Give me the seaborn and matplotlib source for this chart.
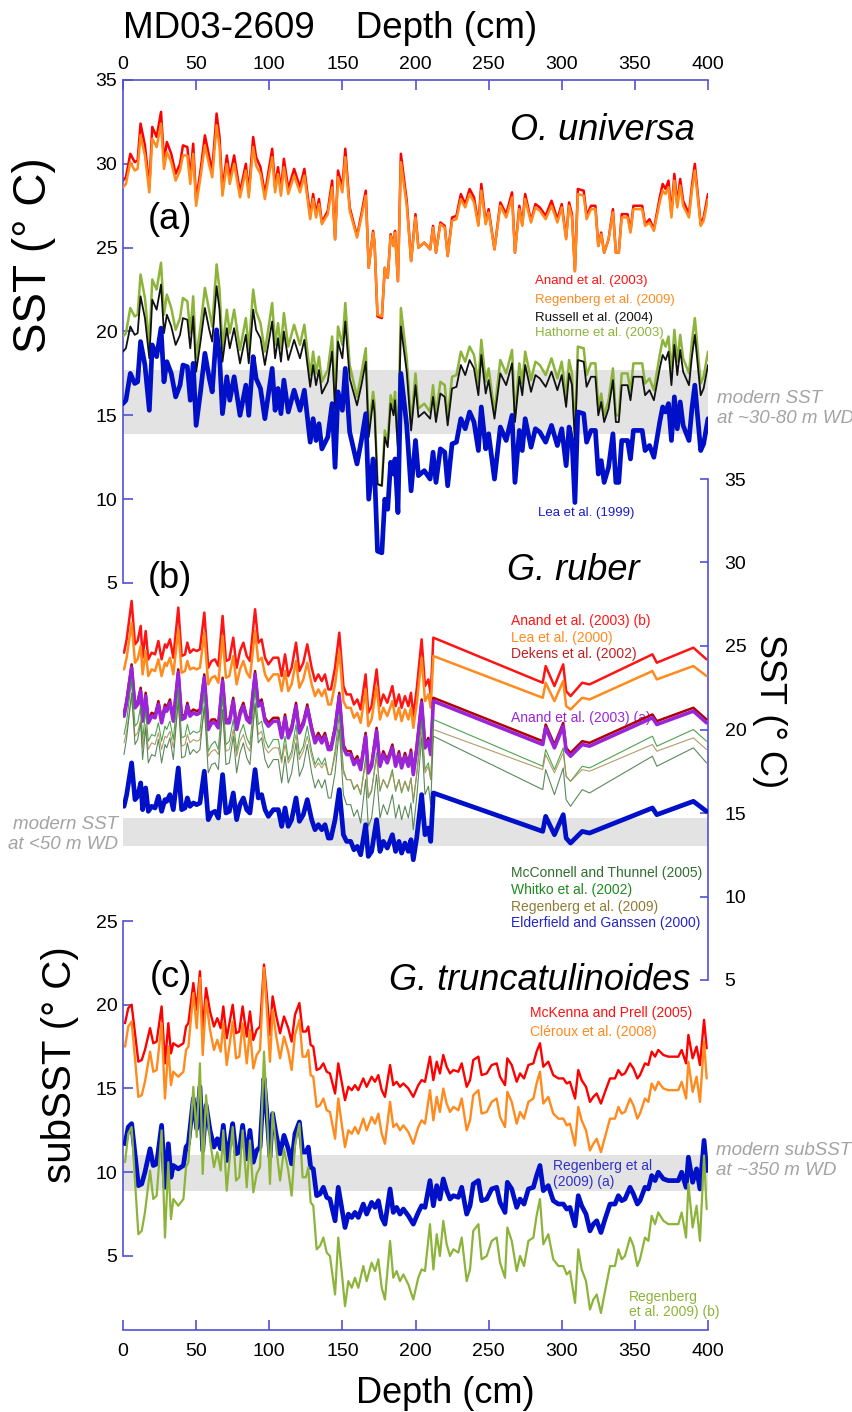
import matplotlib
matplotlib.use("Agg")
import matplotlib.pyplot as plt
import seaborn as sns

sns.set_style("white", {"text.color": "black", "xtick.color": "black", "ytick.color": "black",
                        "axes.labelcolor": "black"})
plt.rcParams["font.family"] = ["Liberation Sans", "DejaVu Sans"]

# ---------------- (a) O. universa ----------------
depth_a = [0, 2, 5, 8, 10, 12, 15, 18, 20, 23, 26, 28, 30, 33, 36, 39, 41, 44, 46, 48,
           50, 53, 56, 59, 61, 64, 66, 68, 71, 73, 76, 80, 84, 86, 89, 91, 94, 97, 102, 104,
           106, 108, 110, 113, 117, 121, 124, 128, 130, 132, 134, 136, 140, 143, 145, 147, 150, 152, 155, 160,
           163, 166, 168, 171, 172, 174, 177, 179, 181, 183, 185, 186, 188, 190, 194, 197, 200, 202, 206, 210,
           212, 214, 217, 220, 222, 225, 228, 231, 234, 237, 240, 243, 245, 248, 250, 254, 258, 262, 266, 268,
           271, 273, 275, 279, 282, 285, 289, 293, 297, 300, 303, 305, 307, 309, 311, 315, 317, 320, 323, 325,
           327, 329, 332, 335, 337, 339, 341, 345, 347, 349, 355, 357, 360, 363, 367, 369, 371, 373, 375, 377,
           379, 381, 383, 387, 389, 391, 395, 397, 400]
anand_a = [29.0, 29.2, 30.6, 30.1, 30.2, 32.4, 31.1, 28.6, 32.2, 31.6, 33.1, 30.2, 31.3, 30.6, 29.4, 30.0, 31.1, 31.0, 29.2, 31.2,
           27.8, 29.6, 31.7, 30.4, 29.6, 33.0, 31.6, 28.4, 30.5, 29.2, 30.5, 28.3, 30.0, 28.3, 31.6, 30.4, 29.8, 28.2, 30.9, 28.6,
           29.8, 28.4, 30.3, 28.5, 29.7, 28.6, 29.7, 26.9, 28.2, 27.0, 27.9, 26.5, 27.2, 29.0, 25.5, 29.6, 28.6, 30.9, 27.4, 25.7,
           27.0, 28.4, 23.8, 26.0, 25.3, 20.9, 20.8, 23.8, 23.2, 25.8, 25.1, 26.0, 23.0, 30.6, 27.8, 24.2, 27.0, 25.0, 25.3, 24.9,
           26.3, 24.7, 26.5, 26.3, 24.5, 26.8, 26.9, 28.2, 27.6, 28.5, 28.0, 26.4, 28.8, 26.5, 27.3, 24.9, 27.7, 27.0, 28.3, 24.7,
           27.5, 26.4, 28.2, 26.6, 27.6, 27.4, 26.9, 27.8, 26.7, 27.6, 25.6, 27.7, 27.0, 23.6, 28.5, 28.4, 26.9, 27.5, 27.5, 25.1,
           25.9, 24.7, 25.5, 27.3, 24.7, 24.7, 27.0, 27.0, 26.0, 27.5, 27.5, 26.4, 26.7, 26.1, 28.0, 28.8, 28.5, 29.0, 27.0, 29.4,
           27.6, 29.1, 27.8, 27.0, 28.7, 30.0, 26.4, 26.8, 28.2]
regenberg_a = [28.6, 28.8, 30.1, 29.6, 29.7, 31.7, 30.5, 28.3, 31.5, 31.0, 32.4, 29.7, 30.7, 30.1, 29.0, 29.6, 30.5, 30.5, 28.8, 30.6,
               27.5, 29.2, 31.1, 29.9, 29.2, 32.3, 31.0, 28.1, 30.0, 28.8, 30.0, 28.0, 29.6, 28.0, 31.0, 29.9, 29.4, 27.9, 30.4, 28.3,
               29.4, 28.1, 29.8, 28.2, 29.3, 28.3, 29.3, 26.7, 27.9, 26.8, 27.6, 26.4, 27.0, 28.6, 25.5, 29.2, 28.3, 30.4, 27.2, 25.6,
               26.8, 28.1, 23.8, 25.9, 25.3, 21.0, 20.9, 23.8, 23.2, 25.7, 25.1, 25.9, 23.0, 30.1, 27.5, 24.2, 26.8, 25.0, 25.3, 24.9,
               26.2, 24.7, 26.4, 26.2, 24.5, 26.6, 26.7, 27.9, 27.4, 28.2, 27.7, 26.3, 28.4, 26.4, 27.1, 24.9, 27.5, 26.8, 28.0, 24.7,
               27.3, 26.3, 27.9, 26.5, 27.4, 27.2, 26.7, 27.5, 26.5, 27.4, 25.5, 27.5, 26.8, 23.6, 28.2, 28.1, 26.7, 27.3, 27.3, 25.1,
               25.8, 24.7, 25.5, 27.1, 24.7, 24.7, 26.8, 26.8, 25.9, 27.3, 27.3, 26.3, 26.5, 26.0, 27.7, 28.4, 28.2, 28.6, 26.8, 29.0,
               27.4, 28.7, 27.5, 26.8, 28.4, 29.6, 26.3, 26.6, 27.9]
russell_a = [18.8, 19.0, 20.3, 19.8, 19.9, 22.1, 20.8, 18.4, 21.9, 21.3, 22.8, 19.9, 21.0, 20.3, 19.2, 19.8, 20.8, 20.7, 19.0, 20.9,
             17.6, 19.4, 21.4, 20.1, 19.4, 22.7, 21.3, 18.2, 20.2, 19.0, 20.2, 18.1, 19.8, 18.1, 21.3, 20.1, 19.6, 18.0, 20.6, 18.4,
             19.6, 18.2, 20.0, 18.3, 19.5, 18.4, 19.5, 16.7, 18.0, 16.8, 17.7, 16.3, 17.0, 18.8, 15.4, 19.4, 18.4, 20.6, 17.2, 15.6,
             16.8, 18.2, 13.7, 15.9, 15.2, 10.9, 10.8, 13.7, 13.1, 15.7, 15.0, 15.9, 12.9, 20.3, 17.6, 14.1, 16.8, 14.9, 15.2, 14.8,
             16.1, 14.6, 16.3, 16.1, 14.4, 16.6, 16.7, 18.0, 17.4, 18.3, 17.8, 16.2, 18.6, 16.3, 17.1, 14.8, 17.5, 16.8, 18.1, 14.6,
             17.3, 16.2, 18.0, 16.4, 17.4, 17.2, 16.7, 17.6, 16.5, 17.4, 15.5, 17.5, 16.8, 13.5, 18.3, 18.2, 16.7, 17.3, 17.3, 15.0,
             15.8, 14.6, 15.4, 17.1, 14.6, 14.6, 16.8, 16.8, 15.9, 17.3, 17.3, 16.2, 16.5, 15.9, 17.8, 18.6, 18.3, 18.8, 16.8, 19.2,
             17.4, 18.9, 17.6, 16.8, 18.5, 19.8, 16.2, 16.6, 18.0]
hathorne_a = [19.7, 19.9, 21.4, 20.9, 21.0, 23.4, 22.0, 19.2, 23.1, 22.5, 24.1, 21.0, 22.2, 21.4, 20.1, 20.8, 22.0, 21.8, 19.9, 22.1,
              18.4, 20.3, 22.6, 21.2, 20.3, 24.0, 22.5, 19.0, 21.3, 19.9, 21.3, 18.9, 20.8, 18.9, 22.5, 21.2, 20.5, 18.8, 21.7, 19.2,
              20.5, 19.0, 21.1, 19.1, 20.4, 19.2, 20.4, 17.4, 18.8, 17.5, 18.5, 17.0, 17.7, 19.7, 15.9, 20.3, 19.2, 21.7, 18.0, 16.1,
              17.5, 19.0, 14.1, 16.4, 15.7, 10.9, 10.8, 14.1, 13.4, 16.2, 15.5, 16.4, 13.2, 21.4, 18.4, 14.5, 17.5, 15.4, 15.7, 15.2,
              16.8, 15.0, 17.0, 16.8, 14.8, 17.3, 17.4, 18.8, 18.2, 19.1, 18.6, 16.9, 19.5, 17.0, 17.8, 15.2, 18.3, 17.5, 18.9, 15.0,
              18.1, 16.9, 18.8, 17.1, 18.2, 18.0, 17.4, 18.4, 17.2, 18.2, 16.0, 18.3, 17.5, 13.8, 19.1, 19.0, 17.4, 18.1, 18.1, 15.5,
              16.3, 15.0, 15.9, 17.8, 15.0, 15.0, 17.5, 17.5, 16.4, 18.1, 18.1, 16.9, 17.2, 16.5, 18.6, 19.5, 19.1, 19.7, 17.5, 20.1,
              18.2, 19.8, 18.4, 17.5, 19.4, 20.8, 16.9, 17.3, 18.8]
lea_a = [15.7, 15.9, 17.5, 16.9, 17.0, 19.4, 18.0, 15.3, 19.2, 18.5, 20.2, 17.0, 18.2, 17.5, 16.1, 16.8, 18.0, 17.9, 15.9, 18.1,
         14.4, 16.4, 18.7, 17.2, 16.4, 20.1, 18.5, 15.1, 17.3, 15.9, 17.3, 15.0, 16.8, 15.0, 18.5, 17.2, 16.6, 14.8, 17.8, 15.3,
         16.6, 15.1, 17.1, 15.2, 16.5, 15.3, 16.5, 13.4, 14.8, 13.5, 14.5, 13.0, 13.7, 15.7, 11.9, 16.4, 15.3, 17.8, 14.0, 12.1,
         13.5, 15.1, 10.0, 12.4, 11.7, 6.9, 6.8, 10.0, 9.4, 12.2, 11.5, 12.4, 9.2, 17.5, 14.4, 10.5, 13.5, 11.4, 11.7, 11.2,
         12.8, 11.0, 13.0, 12.8, 10.8, 13.3, 13.4, 14.8, 14.2, 15.2, 14.6, 12.9, 15.5, 13.0, 13.9, 11.2, 14.3, 13.5, 15.0, 11.0,
         14.1, 12.9, 14.8, 13.1, 14.2, 14.0, 13.4, 14.4, 13.2, 14.2, 12.0, 14.3, 13.5, 9.8, 15.2, 15.1, 13.4, 14.1, 14.1, 11.5,
         12.3, 11.0, 11.9, 13.9, 11.0, 11.0, 13.5, 13.5, 12.4, 14.1, 14.1, 12.9, 13.2, 12.5, 14.6, 15.5, 15.2, 15.7, 13.5, 16.1,
         14.2, 15.8, 14.4, 13.5, 15.4, 16.8, 12.9, 13.3, 14.8]

# ---------------- (b) G. ruber ----------------
depth_b = [0.7, 2.5, 5.9, 8.2, 10.0, 12.1, 13.4, 15.5, 17.3, 19.6, 21.9, 24.2, 26.4, 28.7, 29.9, 32.1, 34.4, 37.8, 40.1, 42.4,
           44.0, 45.8, 48.1, 50.4, 52.6, 55.6, 58.3, 60.6, 62.9, 65.2, 68.1, 70.4, 72.7, 75.4, 77.7, 80.0, 82.3, 84.6, 86.8, 90.3,
           92.5, 94.8, 97.1, 99.4, 102.8, 106.2, 108.5, 110.8, 113.0, 115.3, 118.3, 120.6, 123.3, 126.0, 129.0, 131.3, 133.6, 135.9, 138.1, 140.4,
           142.2, 145.0, 147.9, 150.7, 152.9, 155.7, 157.9, 160.2, 162.5, 165.9, 167.7, 170.0, 173.4, 175.7, 178.0, 180.7, 184.2, 186.4, 188.7, 190.5,
           192.8, 195.1, 196.9, 198.5, 200.8, 204.2, 206.5, 208.8, 210.4, 212.2, 287, 289, 295, 301, 303, 306, 314, 319, 362, 365,
           390, 399]
anand_b_ruber = [24.6, 25.4, 27.7, 25.1, 25.3, 26.2, 24.3, 25.9, 24.2, 24.6, 24.5, 25.3, 24.2, 25.1, 24.9, 25.4, 24.3, 27.3, 24.4, 24.5,
                 25.2, 24.6, 24.8, 24.7, 24.8, 27.0, 23.7, 24.1, 24.2, 23.8, 26.8, 24.1, 24.2, 25.5, 23.7, 24.7, 25.2, 24.4, 24.1, 27.2,
                 25.2, 25.4, 24.3, 23.9, 24.3, 24.3, 23.2, 24.5, 23.2, 23.7, 25.2, 23.5, 24.0, 25.1, 23.7, 22.9, 23.3, 22.9, 23.3, 22.4,
                 22.4, 23.7, 25.8, 22.6, 22.1, 22.1, 21.5, 21.8, 21.2, 23.3, 21.0, 21.4, 23.6, 21.4, 22.1, 21.6, 22.6, 21.4, 22.1, 21.3,
                 22.0, 21.4, 22.2, 20.8, 22.4, 25.4, 22.6, 23.0, 22.1, 25.5, 22.8, 23.8, 22.6, 23.9, 22.3, 22.0, 22.8, 22.7, 24.5, 24.0,
                 24.9, 24.2]
lea_ruber = [23.6, 24.3, 26.4, 24.0, 24.2, 25.0, 23.3, 24.7, 23.2, 23.6, 23.5, 24.2, 23.2, 24.0, 23.8, 24.3, 23.3, 26.0, 23.4, 23.5,
             24.1, 23.6, 23.7, 23.6, 23.7, 25.8, 22.7, 23.1, 23.2, 22.8, 25.6, 23.1, 23.2, 24.4, 22.7, 23.6, 24.1, 23.4, 23.1, 25.9,
             24.1, 24.3, 23.3, 22.9, 23.3, 23.3, 22.3, 23.5, 22.3, 22.7, 24.1, 22.5, 23.0, 24.0, 22.7, 22.0, 22.4, 22.0, 22.4, 21.5,
             21.5, 22.7, 24.7, 21.7, 21.3, 21.3, 20.7, 21.0, 20.4, 22.4, 20.2, 20.6, 22.6, 20.6, 21.3, 20.8, 21.7, 20.6, 21.3, 20.5,
             21.2, 20.6, 21.3, 20.1, 21.5, 24.3, 21.7, 22.1, 21.3, 24.4, 21.9, 22.8, 21.7, 22.9, 21.4, 21.2, 21.9, 21.8, 23.5, 23.0,
             23.8, 23.2]
dekens_ruber = [21.0, 21.8, 23.9, 21.5, 21.7, 22.5, 20.7, 22.2, 20.6, 21.0, 20.9, 21.7, 20.6, 21.5, 21.3, 21.8, 20.7, 23.6, 20.8, 20.9,
                21.6, 21.0, 21.2, 21.1, 21.2, 23.3, 20.2, 20.6, 20.6, 20.3, 23.1, 20.6, 20.6, 21.9, 20.2, 21.1, 21.6, 20.8, 20.6, 23.5,
                21.6, 21.8, 20.7, 20.4, 20.7, 20.7, 19.7, 20.9, 19.7, 20.2, 21.6, 20.0, 20.5, 21.5, 20.2, 19.4, 19.8, 19.4, 19.8, 19.0,
                19.0, 20.2, 22.2, 19.1, 18.7, 18.7, 18.1, 18.4, 17.8, 19.8, 17.6, 18.0, 20.1, 18.0, 18.7, 18.2, 19.1, 18.0, 18.7, 17.9,
                18.6, 18.0, 18.8, 17.5, 19.0, 21.8, 19.1, 19.5, 18.7, 21.9, 19.3, 20.3, 19.1, 20.4, 18.9, 18.6, 19.3, 19.2, 20.9, 20.5,
                21.3, 20.6]
anand_a_ruber = [20.8, 21.6, 23.7, 21.3, 21.5, 22.3, 20.5, 22.0, 20.4, 20.8, 20.7, 21.5, 20.4, 21.3, 21.1, 21.6, 20.5, 23.4, 20.6, 20.7,
                 21.4, 20.8, 21.0, 20.9, 21.0, 23.1, 20.0, 20.4, 20.4, 20.1, 22.9, 20.4, 20.4, 21.7, 20.0, 20.9, 21.4, 20.6, 20.4, 23.3,
                 21.4, 21.6, 20.5, 20.2, 20.5, 20.5, 19.5, 20.7, 19.5, 20.0, 21.4, 19.8, 20.3, 21.3, 20.0, 19.2, 19.6, 19.2, 19.6, 18.8,
                 18.8, 20.0, 22.0, 18.9, 18.5, 18.5, 17.9, 18.2, 17.6, 19.6, 17.4, 17.8, 19.9, 17.8, 18.5, 18.0, 18.9, 17.8, 18.5, 17.7,
                 18.4, 17.8, 18.6, 17.3, 18.8, 21.6, 18.9, 19.3, 18.5, 21.7, 19.1, 20.1, 18.9, 20.2, 18.7, 18.4, 19.1, 19.0, 20.7, 20.3,
                 21.1, 20.4]
whitko_ruber = [19.7, 20.5, 23.0, 20.2, 20.4, 21.4, 19.4, 21.1, 19.3, 19.7, 19.6, 20.4, 19.3, 20.2, 20.0, 20.5, 19.4, 22.5, 19.5, 19.6,
                20.3, 19.7, 19.9, 19.8, 19.9, 22.2, 18.7, 19.1, 19.3, 18.8, 22.0, 19.1, 19.3, 20.6, 18.7, 19.8, 20.3, 19.5, 19.1, 22.4,
                20.3, 20.5, 19.4, 18.9, 19.4, 19.4, 18.2, 19.6, 18.2, 18.7, 20.3, 18.5, 19.0, 20.2, 18.7, 17.9, 18.3, 17.9, 18.3, 17.3,
                17.3, 18.7, 20.9, 17.6, 17.0, 17.0, 16.4, 16.7, 16.1, 18.3, 15.9, 16.3, 18.6, 16.3, 17.0, 16.5, 17.6, 16.3, 17.0, 16.2,
                16.9, 16.3, 17.1, 15.6, 17.3, 20.5, 17.6, 18.0, 17.0, 20.6, 17.8, 18.8, 17.6, 18.9, 17.2, 16.9, 17.8, 17.7, 19.6, 19.0,
                20.0, 19.3]
regenberg_ruber = [19.2, 19.9, 21.9, 19.6, 19.8, 20.6, 18.9, 20.3, 18.8, 19.2, 19.1, 19.8, 18.8, 19.6, 19.5, 19.9, 18.9, 21.6, 19.0, 19.1,
                   19.7, 19.2, 19.4, 19.3, 19.4, 21.3, 18.4, 18.7, 18.8, 18.5, 21.1, 18.7, 18.8, 20.0, 18.4, 19.3, 19.7, 19.0, 18.7, 21.5,
                   19.7, 19.9, 18.9, 18.6, 18.9, 18.9, 18.0, 19.1, 18.0, 18.4, 19.7, 18.2, 18.7, 19.6, 18.4, 17.7, 18.0, 17.7, 18.0, 17.3,
                   17.3, 18.4, 20.2, 17.4, 17.0, 17.0, 16.5, 16.7, 16.2, 18.0, 16.0, 16.4, 18.3, 16.4, 17.0, 16.5, 17.4, 16.4, 17.0, 16.3,
                   16.9, 16.4, 17.1, 15.8, 17.3, 19.9, 17.4, 17.8, 17.0, 20.0, 17.6, 18.5, 17.4, 18.6, 17.2, 16.9, 17.6, 17.5, 19.1, 18.7,
                   19.5, 18.8]
mcconnell_ruber = [18.5, 19.5, 22.2, 19.1, 19.4, 20.4, 18.2, 20.1, 18.0, 18.5, 18.4, 19.4, 18.0, 19.1, 18.9, 19.5, 18.2, 21.8, 18.3, 18.4,
                   19.2, 18.5, 18.8, 18.6, 18.8, 21.4, 17.4, 17.9, 18.0, 17.6, 21.2, 17.9, 18.0, 19.6, 17.4, 18.6, 19.2, 18.3, 17.9, 21.6,
                   19.2, 19.5, 18.2, 17.7, 18.2, 18.2, 16.8, 18.4, 16.8, 17.4, 19.2, 17.2, 17.8, 19.1, 17.4, 16.5, 17.0, 16.5, 17.0, 15.9,
                   15.9, 17.4, 20.0, 16.1, 15.5, 15.5, 14.8, 15.2, 14.4, 17.0, 14.2, 14.7, 17.3, 14.7, 15.5, 14.9, 16.1, 14.7, 15.5, 14.6,
                   15.4, 14.7, 15.6, 14.0, 15.9, 19.5, 16.1, 16.6, 15.5, 19.6, 16.4, 17.6, 16.1, 17.7, 15.8, 15.4, 16.4, 16.2, 18.4, 17.8,
                   18.9, 18.0]
elderfield_ruber = [15.4, 16.1, 18.0, 15.8, 16.0, 16.8, 15.2, 16.5, 15.1, 15.4, 15.3, 16.0, 15.1, 15.8, 15.7, 16.1, 15.2, 17.7, 15.2, 15.3,
                    15.9, 15.4, 15.6, 15.5, 15.6, 17.5, 14.6, 15.0, 15.1, 14.7, 17.3, 15.0, 15.1, 16.2, 14.6, 15.5, 15.9, 15.2, 15.0, 17.6,
                    15.9, 16.1, 15.2, 14.8, 15.2, 15.2, 14.2, 15.3, 14.2, 14.6, 15.9, 14.5, 14.9, 15.8, 14.6, 14.0, 14.3, 14.0, 14.3, 13.5,
                    13.5, 14.6, 16.4, 13.7, 13.3, 13.3, 12.8, 13.0, 12.5, 14.3, 12.4, 12.7, 14.6, 12.7, 13.3, 12.9, 13.7, 12.7, 13.3, 12.6,
                    13.2, 12.7, 13.4, 12.2, 13.5, 16.1, 13.7, 14.1, 13.3, 16.2, 13.9, 14.8, 13.7, 14.9, 13.5, 13.2, 13.9, 13.8, 15.3, 14.9,
                    15.7, 15.1]

# ---------------- (c) G. truncatulinoides ----------------
depth_c = [1.4, 3.6, 5.9, 8.2, 10.5, 12.8, 15.0, 18.5, 20.7, 23.0, 26.4, 28.7, 31.0, 32.8, 34.4, 37.8, 41.3, 43.1, 44.7, 48.1,
           50.4, 52.6, 54.5, 56.8, 59.5, 62.2, 64.5, 66.8, 68.6, 70.9, 73.2, 75.0, 77.3, 79.5, 81.8, 84.6, 86.8, 89.1, 91.4, 93.7,
           96.4, 98.2, 100.5, 102.3, 104.6, 107.4, 110.1, 113.0, 115.3, 117.6, 120.6, 122.8, 125.1, 126.7, 128.3, 130.1, 132.4, 134.7, 137.0, 139.3,
           141.5, 145.0, 147.2, 149.5, 151.8, 154.1, 156.4, 158.6, 160.9, 164.3, 166.6, 170.0, 172.3, 174.6, 176.9, 179.1, 182.6, 184.8, 187.1, 189.4,
           191.7, 195.1, 198.5, 201.9, 204.2, 206.5, 209.9, 212.2, 214.5, 216.7, 219.0, 221.3, 223.6, 225.9, 229.3, 231.6, 235.0, 237.3, 239.5, 243.0,
           245.2, 248.7, 252.1, 255.5, 257.8, 261.2, 262.8, 265.8, 269.2, 271.5, 274.2, 277.2, 280.6, 282.8, 285.1, 287.4, 290.8, 294.2, 297.7, 301.1,
           303.4, 305.6, 309.1, 311.3, 313.6, 316.6, 319.3, 321.6, 323.9, 326.8, 329.6, 333.0, 336.4, 338.7, 341.0, 343.2, 346.7, 349.0, 351.7, 353.5,
           356.9, 359.2, 361.5, 363.8, 366.0, 369.5, 372.9, 376.3, 379.7, 382.0, 385.0, 386.6, 389.5, 392.2, 394.5, 397.3, 399.1]
mckenna_c = [18.9, 19.8, 20.0, 18.3, 16.6, 16.7, 17.3, 18.6, 17.7, 17.8, 19.9, 16.5, 18.9, 17.1, 17.7, 17.5, 17.7, 18.7, 18.9, 21.3,
             19.7, 22.0, 18.5, 21.0, 19.6, 18.7, 19.2, 18.6, 19.9, 18.0, 19.1, 20.0, 18.3, 18.4, 19.9, 18.1, 19.6, 17.9, 18.5, 18.7,
             22.4, 20.7, 18.2, 20.5, 19.4, 18.3, 19.3, 18.6, 17.8, 19.4, 20.1, 18.4, 18.4, 18.7, 17.6, 17.5, 16.1, 16.2, 16.5, 16.0,
             15.9, 14.7, 16.5, 15.4, 14.3, 15.1, 14.9, 15.2, 14.9, 15.6, 15.1, 15.7, 15.4, 15.8, 14.9, 14.5, 16.4, 15.2, 15.4, 15.1,
             15.3, 15.0, 14.5, 15.2, 15.5, 15.4, 16.9, 15.5, 16.6, 15.9, 17.0, 16.3, 15.9, 16.1, 16.0, 16.5, 15.1, 15.5, 16.7, 16.9,
             15.8, 15.9, 16.4, 16.5, 15.7, 15.2, 16.8, 16.4, 15.4, 15.9, 15.6, 16.4, 16.5, 17.2, 17.7, 16.3, 16.6, 15.8, 15.6, 15.6,
             15.3, 15.4, 14.4, 16.1, 15.5, 15.1, 14.2, 14.5, 14.7, 14.1, 14.8, 15.6, 15.6, 16.1, 15.8, 15.9, 16.5, 16.2, 15.6, 15.8,
             16.5, 16.4, 17.2, 16.9, 17.3, 17.0, 16.9, 16.9, 16.9, 17.3, 16.5, 18.2, 16.8, 17.5, 16.4, 19.1, 17.4]
cleroux_c = [17.5, 18.7, 19.0, 16.8, 14.5, 14.6, 15.4, 17.2, 16.0, 16.1, 18.9, 14.4, 17.5, 15.2, 16.0, 15.7, 16.0, 17.3, 17.5, 20.7,
             18.6, 21.6, 17.0, 20.3, 18.5, 17.3, 17.9, 17.2, 18.9, 16.4, 17.8, 19.0, 16.8, 16.9, 18.9, 16.5, 18.5, 16.2, 17.0, 17.3,
             22.2, 19.9, 16.6, 19.7, 18.2, 16.8, 18.1, 17.2, 16.1, 18.2, 19.1, 16.9, 16.9, 17.3, 15.8, 15.7, 13.9, 14.0, 14.4, 13.7,
             13.6, 12.0, 14.4, 12.9, 11.5, 12.5, 12.3, 12.7, 12.3, 13.2, 12.5, 13.3, 12.9, 13.5, 12.3, 11.7, 14.2, 12.7, 12.9, 12.5,
             12.8, 12.4, 11.7, 12.7, 13.1, 12.9, 14.9, 13.1, 14.5, 13.6, 15.0, 14.1, 13.6, 13.9, 13.7, 14.4, 12.5, 13.1, 14.6, 14.9,
             13.5, 13.6, 14.2, 14.4, 13.3, 12.7, 14.8, 14.2, 12.9, 13.6, 13.2, 14.2, 14.4, 15.3, 16.0, 14.1, 14.5, 13.5, 13.2, 13.2,
             12.8, 12.9, 11.6, 13.9, 13.1, 12.5, 11.3, 11.7, 12.0, 11.2, 12.1, 13.2, 13.2, 13.9, 13.5, 13.6, 14.4, 14.0, 13.2, 13.5,
             14.4, 14.2, 15.3, 14.9, 15.4, 15.0, 14.9, 14.9, 14.9, 15.4, 14.4, 16.6, 14.8, 15.7, 14.2, 17.8, 15.6]
regenberg_a_c = [11.7, 12.7, 12.9, 11.1, 9.2, 9.3, 10.0, 11.4, 10.4, 10.5, 12.8, 9.1, 11.7, 9.7, 10.4, 10.2, 10.4, 11.5, 11.7, 14.4,
                 12.6, 15.1, 11.3, 14.0, 12.5, 11.5, 12.0, 11.4, 12.8, 10.7, 11.9, 12.9, 11.1, 11.2, 12.8, 10.8, 12.5, 10.6, 11.3, 11.5,
                 15.6, 13.7, 10.9, 13.5, 12.3, 11.1, 12.2, 11.4, 10.5, 12.3, 13.0, 11.2, 11.2, 11.5, 10.3, 10.2, 8.6, 8.7, 9.1, 8.5,
                 8.4, 7.1, 9.1, 7.9, 6.7, 7.5, 7.3, 7.6, 7.3, 8.1, 7.5, 8.2, 7.9, 8.3, 7.3, 6.9, 9.0, 7.6, 7.9, 7.5,
                 7.8, 7.4, 6.9, 7.6, 8.0, 7.9, 9.5, 8.0, 9.2, 8.4, 9.6, 8.9, 8.4, 8.6, 8.5, 9.1, 7.5, 8.0, 9.3, 9.5,
                 8.3, 8.4, 9.0, 9.1, 8.2, 7.6, 9.4, 9.0, 7.9, 8.4, 8.1, 9.0, 9.1, 9.8, 10.4, 8.9, 9.2, 8.3, 8.1, 8.1,
                 7.8, 7.9, 6.8, 8.6, 8.0, 7.5, 6.5, 6.9, 7.1, 6.4, 7.2, 8.1, 8.1, 8.6, 8.3, 8.4, 9.1, 8.7, 8.1, 8.3,
                 9.1, 9.0, 9.8, 9.5, 10.0, 9.6, 9.5, 9.5, 9.5, 10.0, 9.1, 10.9, 9.4, 10.2, 9.0, 11.9, 10.1]
regenberg_b_c = [10.6, 12.3, 12.7, 9.5, 6.3, 6.5, 7.6, 10.1, 8.4, 8.6, 12.5, 6.1, 10.6, 7.2, 8.4, 8.0, 8.4, 10.3, 10.6, 15.1,
                 12.1, 16.5, 9.9, 14.6, 11.9, 10.3, 11.2, 10.1, 12.5, 8.9, 11.0, 12.7, 9.5, 9.7, 12.5, 9.1, 11.9, 8.8, 9.9, 10.3,
                 17.2, 14.0, 9.3, 13.6, 11.6, 9.5, 11.4, 10.1, 8.6, 11.6, 12.9, 9.7, 9.7, 10.3, 8.2, 8.0, 5.4, 5.6, 6.1, 5.2,
                 5.0, 2.7, 6.1, 4.1, 2.0, 3.5, 3.1, 3.7, 3.1, 4.4, 3.5, 4.6, 4.1, 4.8, 3.1, 2.4, 5.9, 3.7, 4.1, 3.5,
                 3.9, 3.3, 2.4, 3.7, 4.2, 4.1, 6.9, 4.2, 6.3, 5.0, 7.1, 5.7, 5.0, 5.4, 5.2, 6.1, 3.5, 4.2, 6.5, 6.9,
                 4.8, 5.0, 5.9, 6.1, 4.6, 3.7, 6.7, 5.9, 4.1, 5.0, 4.4, 5.9, 6.1, 7.4, 8.4, 5.7, 6.3, 4.8, 4.4, 4.4,
                 3.9, 4.1, 2.2, 5.4, 4.2, 3.5, 1.8, 2.4, 2.7, 1.6, 2.9, 4.4, 4.4, 5.4, 4.8, 5.0, 6.1, 5.6, 4.4, 4.8,
                 6.1, 5.9, 7.4, 6.9, 7.6, 7.1, 6.9, 6.9, 6.9, 7.6, 6.1, 9.3, 6.7, 8.0, 5.9, 11.0, 7.8]

axis_blue = "#5050d8"
band_grey = "#e3e3e3"
note_grey = "#a3a3a3"

W, H = 852, 1412
fig = plt.figure(figsize=(W / 100, H / 100), dpi=100)


def px_rect(x0, y0, x1, y1):
    return [x0 / W, 1 - y1 / H, (x1 - x0) / W, (y1 - y0) / H]


ax_a = fig.add_axes(px_rect(123, 80, 708, 583))
ax_b = fig.add_axes(px_rect(123, 479, 708, 980))
ax_c = fig.add_axes(px_rect(123, 921, 708, 1330))

for ax in (ax_a, ax_b, ax_c):
    ax.set_facecolor("none")
    for sp in ax.spines.values():
        sp.set_visible(False)
        sp.set_color(axis_blue)
        sp.set_linewidth(1.2)


def trace(ax, x, y, color, lw, z, alpha=1.0):
    sns.lineplot(x=x, y=y, ax=ax, color=color, linewidth=lw, estimator=None,
                 errorbar=None, sort=False, legend=False, zorder=z, alpha=alpha)


# panel (a)
ax_a.axhspan(13.9, 17.7, color=band_grey, lw=0, zorder=0)
trace(ax_a, depth_a, anand_a, "#ff0000", 1.8, 2)
trace(ax_a, depth_a, regenberg_a, "#ff8a1e", 1.8, 3)
trace(ax_a, depth_a, hathorne_a, "#8db43a", 1.8, 4)
trace(ax_a, depth_a, russell_a, "#111111", 1.3, 5)
trace(ax_a, depth_a, lea_a, "#0010c8", 3.4, 6)
ax_a.set_xlim(0, 400)
ax_a.set_ylim(5, 35)
ax_a.spines["top"].set_visible(True)
ax_a.spines["left"].set_visible(True)
ax_a.set_xticks(range(0, 401, 50))
ax_a.set_yticks(range(5, 36, 5))
ax_a.tick_params(axis="x", top=True, bottom=False, labeltop=True, labelbottom=False,
                 direction="in", length=7, width=1.2, color=axis_blue, labelcolor="black",
                 labelsize=14, pad=5)
ax_a.tick_params(axis="y", left=True, right=False, direction="in", length=7,
                 width=1.2, color=axis_blue, labelcolor="black", labelsize=14, pad=4)
ax_a.set_xlabel("")
ax_a.set_ylabel("")

ax_a.text(391, 31.4, "O. universa", fontsize=26, style="italic", ha="right", va="baseline")
ax_a.text(17, 26.1, "(a)", fontsize=26, ha="left", va="baseline")
ax_a.text(282, 23.0, "Anand et al. (2003)", color="#ff1010", fontsize=9.5, va="center")
ax_a.text(282, 21.9, "Regenberg et al. (2009)", color="#ff8a1e", fontsize=9.5, va="center")
ax_a.text(282, 20.8, "Russell et al. (2004)", color="#111111", fontsize=9.5, va="center")
ax_a.text(282, 19.9, "Hathorne et al. (2003)", color="#8db43a", fontsize=9.5, va="center")
ax_a.text(284, 9.2, "Lea et al. (1999)", color="#1a1ad0", fontsize=9.5, va="center")
ax_a.text(406, 15.4, "modern SST\nat ~30-80 m WD", color=note_grey, fontsize=13.5,
          style="italic", ha="left", va="center", linespacing=1.2)

# panel (b)
ax_b.axhspan(13.0, 14.7, color=band_grey, lw=0, zorder=0)
trace(ax_b, depth_b, anand_b_ruber, "#ff1414", 1.8, 2)
trace(ax_b, depth_b, lea_ruber, "#ff8a1e", 1.8, 3)
trace(ax_b, depth_b, dekens_ruber, "#b00000", 1.8, 4)
trace(ax_b, depth_b, anand_a_ruber, "#9a25d8", 2.6, 5)
trace(ax_b, depth_b, whitko_ruber, "#3c983c", 0.8, 6, 0.9)
trace(ax_b, depth_b, regenberg_ruber, "#a8925a", 0.8, 6, 0.9)
trace(ax_b, depth_b, mcconnell_ruber, "#4a7c4a", 0.8, 6, 0.9)
trace(ax_b, depth_b, elderfield_ruber, "#0010c8", 3.4, 7)
ax_b.set_xlim(0, 400)
ax_b.set_ylim(5, 35)
ax_b.spines["right"].set_visible(True)
ax_b.set_xticks([])
ax_b.yaxis.tick_right()
ax_b.set_yticks(range(5, 36, 5))
ax_b.tick_params(axis="y", right=True, left=False, labelright=True, labelleft=False,
                 direction="in", length=6, width=1.2, color=axis_blue, labelcolor="black",
                 labelsize=14, pad=12)
ax_b.set_xlabel("")
ax_b.set_ylabel("")

ax_b.text(353, 28.95, "G. ruber", fontsize=26, style="italic", ha="right", va="baseline")
ax_b.text(17, 28.5, "(b)", fontsize=26, ha="left", va="baseline")
ax_b.text(265, 26.5, "Anand et al. (2003) (b)", color="#ff1414", fontsize=10, va="center")
ax_b.text(265, 25.5, "Lea et al. (2000)", color="#ff8a1e", fontsize=10, va="center")
ax_b.text(265, 24.5, "Dekens et al. (2002)", color="#c02020", fontsize=10, va="center")
ax_b.text(265, 20.7, "Anand et al. (2003) (a)", color="#9a25d8", fontsize=10, va="center")
ax_b.text(265, 11.4, "McConnell and Thunnel (2005)", color="#2f6f2f", fontsize=10, va="center")
ax_b.text(265, 10.4, "Whitko et al. (2002)", color="#1f8a1f", fontsize=10, va="center")
ax_b.text(265, 9.4, "Regenberg et al. (2009)", color="#8f7b35", fontsize=10, va="center")
ax_b.text(265, 8.4, "Elderfield and Ganssen (2000)", color="#2424c8", fontsize=10, va="center")
ax_b.text(-3.4, 13.7, "modern SST\nat <50 m WD", color=note_grey, fontsize=13.5,
          style="italic", ha="right", va="center", linespacing=1.2)

# panel (c)
ax_c.axhspan(8.9, 11.0, color=band_grey, lw=0, zorder=0)
trace(ax_c, depth_c, mckenna_c, "#ff0000", 1.7, 2)
trace(ax_c, depth_c, cleroux_c, "#ff8a1e", 1.7, 3)
trace(ax_c, depth_c, regenberg_a_c, "#0010c8", 3.4, 4)
trace(ax_c, depth_c, regenberg_b_c, "#8db43a", 1.6, 5)
ax_c.set_xlim(0, 400)
ax_c.set_ylim(0.58, 25)
ax_c.spines["left"].set_visible(True)
ax_c.spines["left"].set_bounds(5, 25)
ax_c.spines["bottom"].set_visible(True)
ax_c.set_xticks(range(0, 401, 50))
ax_c.set_yticks(range(5, 26, 5))
ax_c.tick_params(axis="x", bottom=True, top=False, direction="in", length=7, width=1.2,
                 color=axis_blue, labelcolor="black", labelsize=14, pad=9)
ax_c.tick_params(axis="y", left=True, right=False, direction="in", length=7, width=1.2,
                 color=axis_blue, labelcolor="black", labelsize=14, pad=4)
ax_c.set_xlabel("")
ax_c.set_ylabel("")

ax_c.text(388, 20.9, "G. truncatulinoides", fontsize=26, style="italic", ha="right", va="baseline")
ax_c.text(18.5, 21.06, "(c)", fontsize=26, ha="left", va="baseline")
ax_c.text(278, 19.5, "McKenna and Prell (2005)", color="#ff1010", fontsize=10, va="center")
ax_c.text(278, 18.4, "Cléroux et al. (2008)", color="#ff8a1e", fontsize=10, va="center")
ax_c.text(294, 9.9, "Regenberg et al\n(2009) (a)", color="#3030c8", fontsize=10,
          va="center", linespacing=1.15)
ax_c.text(346, 2.1, "Regenberg\net al. 2009) (b)", color="#8db43a", fontsize=10,
          va="center", linespacing=1.15)
ax_c.text(405.5, 10.7, "modern subSST\nat ~350 m WD", color=note_grey, fontsize=13.5,
          style="italic", ha="left", va="center", linespacing=1.2)

# figure-level titles and axis names
fig.text(123 / W, 1 - 38 / H, "MD03-2609    Depth (cm)", fontsize=26.5, ha="left", va="baseline")
fig.text(445 / W, 1 - 1403 / H, "Depth (cm)", fontsize=26, ha="center", va="baseline")
fig.text(34 / W, 1 - 255 / H, "SST (° C)", fontsize=33, rotation=90, ha="center", va="center")
fig.text(770 / W, 1 - 711 / H, "SST (° C)", fontsize=26, rotation=270, ha="center", va="center")
fig.text(60 / W, 1 - 1065 / H, "subSST (° C)", fontsize=29, rotation=90, ha="center", va="center")

fig.savefig("out.png", dpi=100)
